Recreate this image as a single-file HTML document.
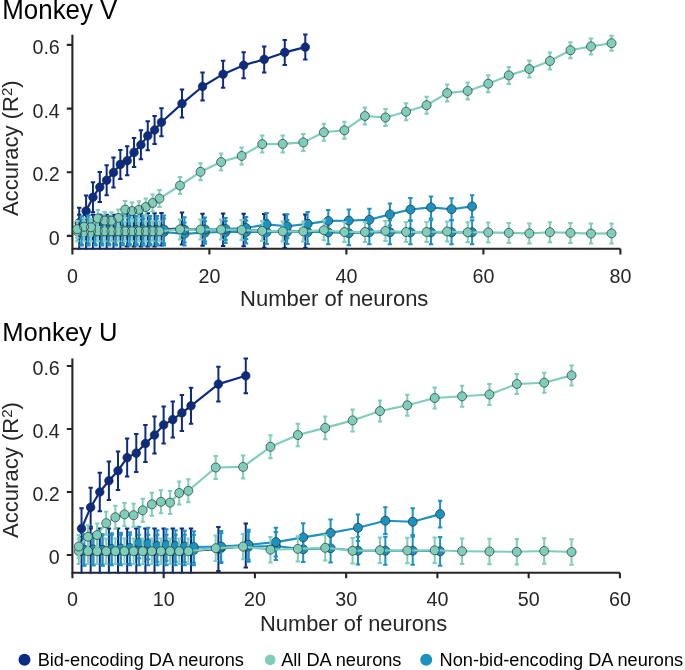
<!DOCTYPE html>
<html><head><meta charset="utf-8"><title>Decoding accuracy vs number of neurons</title>
<style>
html,body{margin:0;padding:0;background:#fff;}
body{width:685px;height:670px;overflow:hidden;font-family:"Liberation Sans",sans-serif;}
svg{display:block;will-change:transform;}
text{font-family:"Liberation Sans",sans-serif;}
.tk{font-size:19.7px;fill:#262626;}
.al{font-size:22.0px;fill:#262626;}
.yl{font-size:22.05px;}
.tt{font-size:25.9px;fill:#000;}
.lg{font-size:18.2px;fill:#000;}
</style></head><body>
<svg width="685" height="670" viewBox="0 0 685 670">
<rect width="685" height="670" fill="#fff"/>
<path d="M72.4 34.8V248.8H620.4" stroke="#262626" stroke-width="2.1" fill="none" stroke-linejoin="miter"/>
<path d="M72.40 248.8v5.6M209.40 248.8v5.6M346.40 248.8v5.6M483.40 248.8v5.6M620.40 248.8v5.6M72.4 235.90h-5.6M72.4 172.24h-5.6M72.4 108.58h-5.6M72.4 44.92h-5.6" stroke="#262626" stroke-width="2.1" fill="none"/>
<text transform="translate(72.40 282.50) scale(1 1.04)" text-anchor="middle" class="tk">0</text>
<text transform="translate(209.40 282.50) scale(1 1.04)" text-anchor="middle" class="tk">20</text>
<text transform="translate(346.40 282.50) scale(1 1.04)" text-anchor="middle" class="tk">40</text>
<text transform="translate(483.40 282.50) scale(1 1.04)" text-anchor="middle" class="tk">60</text>
<text transform="translate(620.40 282.50) scale(1 1.04)" text-anchor="middle" class="tk">80</text>
<text transform="translate(59.80 245.10) scale(1 1.04)" text-anchor="end" class="tk">0</text>
<text transform="translate(59.80 181.44) scale(1 1.04)" text-anchor="end" class="tk">0.2</text>
<text transform="translate(59.80 117.78) scale(1 1.04)" text-anchor="end" class="tk">0.4</text>
<text transform="translate(59.80 54.12) scale(1 1.04)" text-anchor="end" class="tk">0.6</text>
<clipPath id="c1"><rect x="72.4" y="24.799999999999997" width="620" height="224.8"/></clipPath>
<g clip-path="url(#c1)">
<path d="M79.25 214.80V249.20M77.05 214.80h4.4M77.05 249.20h4.4M86.10 214.80V249.20M83.90 214.80h4.4M83.90 249.20h4.4M92.95 214.80V249.20M90.75 214.80h4.4M90.75 249.20h4.4M99.80 214.80V249.20M97.60 214.80h4.4M97.60 249.20h4.4M106.65 214.80V249.20M104.45 214.80h4.4M104.45 249.20h4.4M113.50 214.80V249.20M111.30 214.80h4.4M111.30 249.20h4.4M120.35 214.80V249.20M118.15 214.80h4.4M118.15 249.20h4.4M127.20 213.20V246.40M125.00 213.20h4.4M125.00 246.40h4.4M134.05 213.20V246.40M131.85 213.20h4.4M131.85 246.40h4.4M140.90 213.20V246.40M138.70 213.20h4.4M138.70 246.40h4.4M147.75 213.20V246.40M145.55 213.20h4.4M145.55 246.40h4.4M154.60 213.20V246.40M152.40 213.20h4.4M152.40 246.40h4.4M161.45 212.90V245.50M159.25 212.90h4.4M159.25 245.50h4.4M182.00 212.60V244.60M179.80 212.60h4.4M179.80 244.60h4.4M202.55 213.70V245.70M200.35 213.70h4.4M200.35 245.70h4.4M223.10 213.60V246.00M220.90 213.60h4.4M220.90 246.00h4.4M243.65 213.80V246.20M241.45 213.80h4.4M241.45 246.20h4.4M264.20 214.10V247.70M262.00 214.10h4.4M262.00 247.70h4.4M284.75 214.50V248.10M282.55 214.50h4.4M282.55 248.10h4.4M305.30 214.50V248.10M303.10 214.50h4.4M303.10 248.10h4.4" stroke="#0c2c84" stroke-width="2.0" fill="none"/>
<polyline points="79.25,232.00 86.10,232.00 92.95,232.00 99.80,232.00 106.65,232.00 113.50,232.00 120.35,232.00 127.20,229.80 134.05,229.80 140.90,229.80 147.75,229.80 154.60,229.80 161.45,229.20 182.00,228.60 202.55,229.70 223.10,229.80 243.65,230.00 264.20,230.90 284.75,231.30 305.30,231.30" stroke="#0c2c84" stroke-width="2.15" fill="none" stroke-linejoin="round"/>
<g fill="#0c2c84" stroke="none"><circle cx="79.25" cy="232.00" r="4.3"/><circle cx="86.10" cy="232.00" r="4.3"/><circle cx="92.95" cy="232.00" r="4.3"/><circle cx="99.80" cy="232.00" r="4.3"/><circle cx="106.65" cy="232.00" r="4.3"/><circle cx="113.50" cy="232.00" r="4.3"/><circle cx="120.35" cy="232.00" r="4.3"/><circle cx="127.20" cy="229.80" r="4.3"/><circle cx="134.05" cy="229.80" r="4.3"/><circle cx="140.90" cy="229.80" r="4.3"/><circle cx="147.75" cy="229.80" r="4.3"/><circle cx="154.60" cy="229.80" r="4.3"/><circle cx="161.45" cy="229.20" r="4.3"/><circle cx="182.00" cy="228.60" r="4.3"/><circle cx="202.55" cy="229.70" r="4.3"/><circle cx="223.10" cy="229.80" r="4.3"/><circle cx="243.65" cy="230.00" r="4.3"/><circle cx="264.20" cy="230.90" r="4.3"/><circle cx="284.75" cy="231.30" r="4.3"/><circle cx="305.30" cy="231.30" r="4.3"/></g>
<g fill="none" stroke="#1f2a28" stroke-width="0.65"><circle cx="79.25" cy="232.00" r="4.3"/><circle cx="86.10" cy="232.00" r="4.3"/><circle cx="92.95" cy="232.00" r="4.3"/><circle cx="99.80" cy="232.00" r="4.3"/><circle cx="106.65" cy="232.00" r="4.3"/><circle cx="113.50" cy="232.00" r="4.3"/><circle cx="120.35" cy="232.00" r="4.3"/><circle cx="127.20" cy="229.80" r="4.3"/><circle cx="134.05" cy="229.80" r="4.3"/><circle cx="140.90" cy="229.80" r="4.3"/><circle cx="147.75" cy="229.80" r="4.3"/><circle cx="154.60" cy="229.80" r="4.3"/><circle cx="161.45" cy="229.20" r="4.3"/><circle cx="182.00" cy="228.60" r="4.3"/><circle cx="202.55" cy="229.70" r="4.3"/><circle cx="223.10" cy="229.80" r="4.3"/><circle cx="243.65" cy="230.00" r="4.3"/><circle cx="264.20" cy="230.90" r="4.3"/><circle cx="284.75" cy="231.30" r="4.3"/><circle cx="305.30" cy="231.30" r="4.3"/></g>
<path d="M79.25 207.70V237.70M77.05 207.70h4.4M77.05 237.70h4.4M86.10 195.50V226.50M83.90 195.50h4.4M83.90 226.50h4.4M92.95 182.20V212.20M90.75 182.20h4.4M90.75 212.20h4.4M99.80 172.10V202.10M97.60 172.10h4.4M97.60 202.10h4.4M106.65 165.30V195.30M104.45 165.30h4.4M104.45 195.30h4.4M113.50 157.50V187.50M111.30 157.50h4.4M111.30 187.50h4.4M120.35 149.90V178.90M118.15 149.90h4.4M118.15 178.90h4.4M127.20 146.20V175.20M125.00 146.20h4.4M125.00 175.20h4.4M134.05 137.90V166.90M131.85 137.90h4.4M131.85 166.90h4.4M140.90 130.30V159.30M138.70 130.30h4.4M138.70 159.30h4.4M147.75 121.30V150.30M145.55 121.30h4.4M145.55 150.30h4.4M154.60 116.00V144.00M152.40 116.00h4.4M152.40 144.00h4.4M161.45 108.20V136.20M159.25 108.20h4.4M159.25 136.20h4.4M182.00 89.60V117.60M179.80 89.60h4.4M179.80 117.60h4.4M202.55 72.50V100.50M200.35 72.50h4.4M200.35 100.50h4.4M223.10 60.70V87.70M220.90 60.70h4.4M220.90 87.70h4.4M243.65 52.20V78.20M241.45 52.20h4.4M241.45 78.20h4.4M264.20 46.40V72.40M262.00 46.40h4.4M262.00 72.40h4.4M284.75 39.90V64.90M282.55 39.90h4.4M282.55 64.90h4.4M305.30 34.60V59.60M303.10 34.60h4.4M303.10 59.60h4.4" stroke="#0c2c84" stroke-width="2.0" fill="none"/>
<polyline points="79.25,222.70 86.10,211.00 92.95,197.20 99.80,187.10 106.65,180.30 113.50,172.50 120.35,164.40 127.20,160.70 134.05,152.40 140.90,144.80 147.75,135.80 154.60,130.00 161.45,122.20 182.00,103.60 202.55,86.50 223.10,74.20 243.65,65.20 264.20,59.40 284.75,52.40 305.30,47.10" stroke="#0c2c84" stroke-width="2.15" fill="none" stroke-linejoin="round"/>
<g fill="#0c2c84" stroke="none"><circle cx="79.25" cy="222.70" r="4.3"/><circle cx="86.10" cy="211.00" r="4.3"/><circle cx="92.95" cy="197.20" r="4.3"/><circle cx="99.80" cy="187.10" r="4.3"/><circle cx="106.65" cy="180.30" r="4.3"/><circle cx="113.50" cy="172.50" r="4.3"/><circle cx="120.35" cy="164.40" r="4.3"/><circle cx="127.20" cy="160.70" r="4.3"/><circle cx="134.05" cy="152.40" r="4.3"/><circle cx="140.90" cy="144.80" r="4.3"/><circle cx="147.75" cy="135.80" r="4.3"/><circle cx="154.60" cy="130.00" r="4.3"/><circle cx="161.45" cy="122.20" r="4.3"/><circle cx="182.00" cy="103.60" r="4.3"/><circle cx="202.55" cy="86.50" r="4.3"/><circle cx="223.10" cy="74.20" r="4.3"/><circle cx="243.65" cy="65.20" r="4.3"/><circle cx="264.20" cy="59.40" r="4.3"/><circle cx="284.75" cy="52.40" r="4.3"/><circle cx="305.30" cy="47.10" r="4.3"/></g>
<g fill="none" stroke="#1f2a28" stroke-width="0.65"><circle cx="79.25" cy="222.70" r="4.3"/><circle cx="86.10" cy="211.00" r="4.3"/><circle cx="92.95" cy="197.20" r="4.3"/><circle cx="99.80" cy="187.10" r="4.3"/><circle cx="106.65" cy="180.30" r="4.3"/><circle cx="113.50" cy="172.50" r="4.3"/><circle cx="120.35" cy="164.40" r="4.3"/><circle cx="127.20" cy="160.70" r="4.3"/><circle cx="134.05" cy="152.40" r="4.3"/><circle cx="140.90" cy="144.80" r="4.3"/><circle cx="147.75" cy="135.80" r="4.3"/><circle cx="154.60" cy="130.00" r="4.3"/><circle cx="161.45" cy="122.20" r="4.3"/><circle cx="182.00" cy="103.60" r="4.3"/><circle cx="202.55" cy="86.50" r="4.3"/><circle cx="223.10" cy="74.20" r="4.3"/><circle cx="243.65" cy="65.20" r="4.3"/><circle cx="264.20" cy="59.40" r="4.3"/><circle cx="284.75" cy="52.40" r="4.3"/><circle cx="305.30" cy="47.10" r="4.3"/></g>
<path d="M81.65 218.50V245.50M79.45 218.50h4.4M79.45 245.50h4.4M88.50 218.50V245.50M86.30 218.50h4.4M86.30 245.50h4.4M95.35 218.50V245.50M93.15 218.50h4.4M93.15 245.50h4.4M102.20 218.50V245.50M100.00 218.50h4.4M100.00 245.50h4.4M109.05 218.50V245.50M106.85 218.50h4.4M106.85 245.50h4.4M115.90 218.50V245.50M113.70 218.50h4.4M113.70 245.50h4.4M122.75 218.50V245.50M120.55 218.50h4.4M120.55 245.50h4.4M129.60 218.50V245.50M127.40 218.50h4.4M127.40 245.50h4.4M136.45 218.50V245.50M134.25 218.50h4.4M134.25 245.50h4.4M143.30 218.50V245.50M141.10 218.50h4.4M141.10 245.50h4.4M150.15 218.50V245.50M147.95 218.50h4.4M147.95 245.50h4.4M157.00 218.50V245.50M154.80 218.50h4.4M154.80 245.50h4.4M163.85 218.50V245.50M161.65 218.50h4.4M161.65 245.50h4.4M184.40 222.40V245.40M182.20 222.40h4.4M182.20 245.40h4.4M204.95 221.20V243.80M202.75 221.20h4.4M202.75 243.80h4.4M225.50 221.00V243.00M223.30 221.00h4.4M223.30 243.00h4.4M246.05 220.50V243.50M243.85 220.50h4.4M243.85 243.50h4.4M266.60 220.00V244.00M264.40 220.00h4.4M264.40 244.00h4.4M287.15 220.00V244.00M284.95 220.00h4.4M284.95 244.00h4.4M307.70 220.00V244.00M305.50 220.00h4.4M305.50 244.00h4.4M328.25 220.30V244.30M326.05 220.30h4.4M326.05 244.30h4.4M348.80 221.20V245.20M346.60 221.20h4.4M346.60 245.20h4.4M369.35 220.30V244.30M367.15 220.30h4.4M367.15 244.30h4.4M389.90 220.30V244.30M387.70 220.30h4.4M387.70 244.30h4.4M410.45 220.30V244.30M408.25 220.30h4.4M408.25 244.30h4.4M431.00 220.30V244.30M428.80 220.30h4.4M428.80 244.30h4.4M451.55 220.30V244.30M449.35 220.30h4.4M449.35 244.30h4.4M472.10 220.30V244.30M469.90 220.30h4.4M469.90 244.30h4.4" stroke="#1d91c0" stroke-width="2.0" fill="none"/>
<polyline points="81.65,232.00 88.50,232.00 95.35,232.00 102.20,232.00 109.05,232.00 115.90,232.00 122.75,232.00 129.60,232.00 136.45,232.00 143.30,232.00 150.15,232.00 157.00,232.00 163.85,232.00 184.40,233.90 204.95,232.50 225.50,232.00 246.05,232.00 266.60,232.00 287.15,232.00 307.70,232.00 328.25,232.30 348.80,233.20 369.35,232.30 389.90,232.30 410.45,232.30 431.00,232.30 451.55,232.30 472.10,232.30" stroke="#1d91c0" stroke-width="2.15" fill="none" stroke-linejoin="round"/>
<g fill="#1d91c0" stroke="none"><circle cx="81.65" cy="232.00" r="4.5"/><circle cx="88.50" cy="232.00" r="4.5"/><circle cx="95.35" cy="232.00" r="4.5"/><circle cx="102.20" cy="232.00" r="4.5"/><circle cx="109.05" cy="232.00" r="4.5"/><circle cx="115.90" cy="232.00" r="4.5"/><circle cx="122.75" cy="232.00" r="4.5"/><circle cx="129.60" cy="232.00" r="4.5"/><circle cx="136.45" cy="232.00" r="4.5"/><circle cx="143.30" cy="232.00" r="4.5"/><circle cx="150.15" cy="232.00" r="4.5"/><circle cx="157.00" cy="232.00" r="4.5"/><circle cx="163.85" cy="232.00" r="4.5"/><circle cx="184.40" cy="233.90" r="4.5"/><circle cx="204.95" cy="232.50" r="4.5"/><circle cx="225.50" cy="232.00" r="4.5"/><circle cx="246.05" cy="232.00" r="4.5"/><circle cx="266.60" cy="232.00" r="4.5"/><circle cx="287.15" cy="232.00" r="4.5"/><circle cx="307.70" cy="232.00" r="4.5"/><circle cx="328.25" cy="232.30" r="4.5"/><circle cx="348.80" cy="233.20" r="4.5"/><circle cx="369.35" cy="232.30" r="4.5"/><circle cx="389.90" cy="232.30" r="4.5"/><circle cx="410.45" cy="232.30" r="4.5"/><circle cx="431.00" cy="232.30" r="4.5"/><circle cx="451.55" cy="232.30" r="4.5"/><circle cx="472.10" cy="232.30" r="4.5"/></g>
<g fill="none" stroke="#1f2a28" stroke-width="0.65"><circle cx="81.65" cy="232.00" r="4.5"/><circle cx="88.50" cy="232.00" r="4.5"/><circle cx="95.35" cy="232.00" r="4.5"/><circle cx="102.20" cy="232.00" r="4.5"/><circle cx="109.05" cy="232.00" r="4.5"/><circle cx="115.90" cy="232.00" r="4.5"/><circle cx="122.75" cy="232.00" r="4.5"/><circle cx="129.60" cy="232.00" r="4.5"/><circle cx="136.45" cy="232.00" r="4.5"/><circle cx="143.30" cy="232.00" r="4.5"/><circle cx="150.15" cy="232.00" r="4.5"/><circle cx="157.00" cy="232.00" r="4.5"/><circle cx="163.85" cy="232.00" r="4.5"/><circle cx="184.40" cy="233.90" r="4.5"/><circle cx="204.95" cy="232.50" r="4.5"/><circle cx="225.50" cy="232.00" r="4.5"/><circle cx="246.05" cy="232.00" r="4.5"/><circle cx="266.60" cy="232.00" r="4.5"/><circle cx="287.15" cy="232.00" r="4.5"/><circle cx="307.70" cy="232.00" r="4.5"/><circle cx="328.25" cy="232.30" r="4.5"/><circle cx="348.80" cy="233.20" r="4.5"/><circle cx="369.35" cy="232.30" r="4.5"/><circle cx="389.90" cy="232.30" r="4.5"/><circle cx="410.45" cy="232.30" r="4.5"/><circle cx="431.00" cy="232.30" r="4.5"/><circle cx="451.55" cy="232.30" r="4.5"/><circle cx="472.10" cy="232.30" r="4.5"/></g>
<path d="M81.65 216.50V244.50M79.45 216.50h4.4M79.45 244.50h4.4M88.50 215.50V243.50M86.30 215.50h4.4M86.30 243.50h4.4M95.35 216.50V244.50M93.15 216.50h4.4M93.15 244.50h4.4M102.20 215.50V243.50M100.00 215.50h4.4M100.00 243.50h4.4M109.05 216.00V244.00M106.85 216.00h4.4M106.85 244.00h4.4M115.90 216.50V244.50M113.70 216.50h4.4M113.70 244.50h4.4M122.75 215.50V243.50M120.55 215.50h4.4M120.55 243.50h4.4M129.60 216.00V244.00M127.40 216.00h4.4M127.40 244.00h4.4M136.45 216.00V244.00M134.25 216.00h4.4M134.25 244.00h4.4M143.30 215.50V243.50M141.10 215.50h4.4M141.10 243.50h4.4M150.15 216.00V244.00M147.95 216.00h4.4M147.95 244.00h4.4M157.00 216.00V244.00M154.80 216.00h4.4M154.80 244.00h4.4M163.85 215.50V243.50M161.65 215.50h4.4M161.65 243.50h4.4M184.40 217.20V242.40M182.20 217.20h4.4M182.20 242.40h4.4M204.95 217.50V241.50M202.75 217.50h4.4M202.75 241.50h4.4M225.50 218.00V240.00M223.30 218.00h4.4M223.30 240.00h4.4M246.05 217.00V239.00M243.85 217.00h4.4M243.85 239.00h4.4M266.60 212.90V235.90M264.40 212.90h4.4M264.40 235.90h4.4M287.15 214.20V238.20M284.95 214.20h4.4M284.95 238.20h4.4M307.70 211.90V235.90M305.50 211.90h4.4M305.50 235.90h4.4M328.25 209.90V231.90M326.05 209.90h4.4M326.05 231.90h4.4M348.80 209.60V231.60M346.60 209.60h4.4M346.60 231.60h4.4M369.35 208.80V230.80M367.15 208.80h4.4M367.15 230.80h4.4M389.90 203.40V225.40M387.70 203.40h4.4M387.70 225.40h4.4M410.45 198.10V220.90M408.25 198.10h4.4M408.25 220.90h4.4M431.00 196.40V218.40M428.80 196.40h4.4M428.80 218.40h4.4M451.55 198.20V220.20M449.35 198.20h4.4M449.35 220.20h4.4M472.10 195.20V217.60M469.90 195.20h4.4M469.90 217.60h4.4" stroke="#1d91c0" stroke-width="2.0" fill="none"/>
<polyline points="81.65,230.50 88.50,229.50 95.35,230.50 102.20,229.50 109.05,230.00 115.90,230.50 122.75,229.50 129.60,230.00 136.45,230.00 143.30,229.50 150.15,230.00 157.00,230.00 163.85,229.50 184.40,229.80 204.95,229.50 225.50,229.00 246.05,228.00 266.60,224.40 287.15,226.20 307.70,223.90 328.25,220.90 348.80,220.60 369.35,219.80 389.90,214.40 410.45,209.50 431.00,207.40 451.55,209.20 472.10,206.40" stroke="#1d91c0" stroke-width="2.15" fill="none" stroke-linejoin="round"/>
<g fill="#1d91c0" stroke="none"><circle cx="81.65" cy="230.50" r="4.5"/><circle cx="88.50" cy="229.50" r="4.5"/><circle cx="95.35" cy="230.50" r="4.5"/><circle cx="102.20" cy="229.50" r="4.5"/><circle cx="109.05" cy="230.00" r="4.5"/><circle cx="115.90" cy="230.50" r="4.5"/><circle cx="122.75" cy="229.50" r="4.5"/><circle cx="129.60" cy="230.00" r="4.5"/><circle cx="136.45" cy="230.00" r="4.5"/><circle cx="143.30" cy="229.50" r="4.5"/><circle cx="150.15" cy="230.00" r="4.5"/><circle cx="157.00" cy="230.00" r="4.5"/><circle cx="163.85" cy="229.50" r="4.5"/><circle cx="184.40" cy="229.80" r="4.5"/><circle cx="204.95" cy="229.50" r="4.5"/><circle cx="225.50" cy="229.00" r="4.5"/><circle cx="246.05" cy="228.00" r="4.5"/><circle cx="266.60" cy="224.40" r="4.5"/><circle cx="287.15" cy="226.20" r="4.5"/><circle cx="307.70" cy="223.90" r="4.5"/><circle cx="328.25" cy="220.90" r="4.5"/><circle cx="348.80" cy="220.60" r="4.5"/><circle cx="369.35" cy="219.80" r="4.5"/><circle cx="389.90" cy="214.40" r="4.5"/><circle cx="410.45" cy="209.50" r="4.5"/><circle cx="431.00" cy="207.40" r="4.5"/><circle cx="451.55" cy="209.20" r="4.5"/><circle cx="472.10" cy="206.40" r="4.5"/></g>
<g fill="none" stroke="#1f2a28" stroke-width="0.65"><circle cx="81.65" cy="230.50" r="4.5"/><circle cx="88.50" cy="229.50" r="4.5"/><circle cx="95.35" cy="230.50" r="4.5"/><circle cx="102.20" cy="229.50" r="4.5"/><circle cx="109.05" cy="230.00" r="4.5"/><circle cx="115.90" cy="230.50" r="4.5"/><circle cx="122.75" cy="229.50" r="4.5"/><circle cx="129.60" cy="230.00" r="4.5"/><circle cx="136.45" cy="230.00" r="4.5"/><circle cx="143.30" cy="229.50" r="4.5"/><circle cx="150.15" cy="230.00" r="4.5"/><circle cx="157.00" cy="230.00" r="4.5"/><circle cx="163.85" cy="229.50" r="4.5"/><circle cx="184.40" cy="229.80" r="4.5"/><circle cx="204.95" cy="229.50" r="4.5"/><circle cx="225.50" cy="229.00" r="4.5"/><circle cx="246.05" cy="228.00" r="4.5"/><circle cx="266.60" cy="224.40" r="4.5"/><circle cx="287.15" cy="226.20" r="4.5"/><circle cx="307.70" cy="223.90" r="4.5"/><circle cx="328.25" cy="220.90" r="4.5"/><circle cx="348.80" cy="220.60" r="4.5"/><circle cx="369.35" cy="219.80" r="4.5"/><circle cx="389.90" cy="214.40" r="4.5"/><circle cx="410.45" cy="209.50" r="4.5"/><circle cx="431.00" cy="207.40" r="4.5"/><circle cx="451.55" cy="209.20" r="4.5"/><circle cx="472.10" cy="206.40" r="4.5"/></g>
<path d="M77.25 221.20V241.20M75.05 221.20h4.4M75.05 241.20h4.4M84.10 221.20V241.20M81.90 221.20h4.4M81.90 241.20h4.4M90.95 221.20V241.20M88.75 221.20h4.4M88.75 241.20h4.4M97.80 221.20V241.20M95.60 221.20h4.4M95.60 241.20h4.4M104.65 221.20V241.20M102.45 221.20h4.4M102.45 241.20h4.4M111.50 221.20V241.20M109.30 221.20h4.4M109.30 241.20h4.4M118.35 221.20V241.20M116.15 221.20h4.4M116.15 241.20h4.4M125.20 221.20V241.20M123.00 221.20h4.4M123.00 241.20h4.4M132.05 221.20V241.20M129.85 221.20h4.4M129.85 241.20h4.4M138.90 221.20V241.20M136.70 221.20h4.4M136.70 241.20h4.4M145.75 221.20V241.20M143.55 221.20h4.4M143.55 241.20h4.4M152.60 221.20V241.20M150.40 221.20h4.4M150.40 241.20h4.4M159.45 221.20V241.20M157.25 221.20h4.4M157.25 241.20h4.4M180.00 219.40V239.40M177.80 219.40h4.4M177.80 239.40h4.4M200.55 219.60V239.60M198.35 219.60h4.4M198.35 239.60h4.4M221.10 219.60V239.60M218.90 219.60h4.4M218.90 239.60h4.4M241.65 220.00V240.00M239.45 220.00h4.4M239.45 240.00h4.4M262.20 220.90V240.90M260.00 220.90h4.4M260.00 240.90h4.4M282.75 221.40V241.40M280.55 221.40h4.4M280.55 241.40h4.4M303.30 221.40V241.40M301.10 221.40h4.4M301.10 241.40h4.4M323.85 220.20V240.20M321.65 220.20h4.4M321.65 240.20h4.4M344.40 222.00V242.00M342.20 222.00h4.4M342.20 242.00h4.4M364.95 222.00V242.00M362.75 222.00h4.4M362.75 242.00h4.4M385.50 220.90V240.90M383.30 220.90h4.4M383.30 240.90h4.4M406.05 222.00V242.00M403.85 222.00h4.4M403.85 242.00h4.4M426.60 222.00V242.00M424.40 222.00h4.4M424.40 242.00h4.4M447.15 221.50V241.50M444.95 221.50h4.4M444.95 241.50h4.4M467.70 222.30V242.30M465.50 222.30h4.4M465.50 242.30h4.4M488.25 222.40V242.40M486.05 222.40h4.4M486.05 242.40h4.4M508.80 222.90V242.90M506.60 222.90h4.4M506.60 242.90h4.4M529.35 223.40V243.40M527.15 223.40h4.4M527.15 243.40h4.4M549.90 222.20V242.20M547.70 222.20h4.4M547.70 242.20h4.4M570.45 222.90V242.90M568.25 222.90h4.4M568.25 242.90h4.4M591.00 223.60V243.60M588.80 223.60h4.4M588.80 243.60h4.4M611.55 223.40V243.40M609.35 223.40h4.4M609.35 243.40h4.4" stroke="#7fcdbb" stroke-width="2.0" fill="none"/>
<polyline points="77.25,231.20 84.10,231.20 90.95,231.20 97.80,231.20 104.65,231.20 111.50,231.20 118.35,231.20 125.20,231.20 132.05,231.20 138.90,231.20 145.75,231.20 152.60,231.20 159.45,231.20 180.00,229.40 200.55,229.60 221.10,229.60 241.65,230.00 262.20,230.90 282.75,231.40 303.30,231.40 323.85,230.20 344.40,232.00 364.95,232.00 385.50,230.90 406.05,232.00 426.60,232.00 447.15,231.50 467.70,232.30 488.25,232.40 508.80,232.90 529.35,233.40 549.90,232.20 570.45,232.90 591.00,233.60 611.55,233.40" stroke="#7fcdbb" stroke-width="2.15" fill="none" stroke-linejoin="round"/>
<g fill="#7fcdbb" stroke="none"><circle cx="77.25" cy="231.20" r="4.5"/><circle cx="84.10" cy="231.20" r="4.5"/><circle cx="90.95" cy="231.20" r="4.5"/><circle cx="97.80" cy="231.20" r="4.5"/><circle cx="104.65" cy="231.20" r="4.5"/><circle cx="111.50" cy="231.20" r="4.5"/><circle cx="118.35" cy="231.20" r="4.5"/><circle cx="125.20" cy="231.20" r="4.5"/><circle cx="132.05" cy="231.20" r="4.5"/><circle cx="138.90" cy="231.20" r="4.5"/><circle cx="145.75" cy="231.20" r="4.5"/><circle cx="152.60" cy="231.20" r="4.5"/><circle cx="159.45" cy="231.20" r="4.5"/><circle cx="180.00" cy="229.40" r="4.5"/><circle cx="200.55" cy="229.60" r="4.5"/><circle cx="221.10" cy="229.60" r="4.5"/><circle cx="241.65" cy="230.00" r="4.5"/><circle cx="262.20" cy="230.90" r="4.5"/><circle cx="282.75" cy="231.40" r="4.5"/><circle cx="303.30" cy="231.40" r="4.5"/><circle cx="323.85" cy="230.20" r="4.5"/><circle cx="344.40" cy="232.00" r="4.5"/><circle cx="364.95" cy="232.00" r="4.5"/><circle cx="385.50" cy="230.90" r="4.5"/><circle cx="406.05" cy="232.00" r="4.5"/><circle cx="426.60" cy="232.00" r="4.5"/><circle cx="447.15" cy="231.50" r="4.5"/><circle cx="467.70" cy="232.30" r="4.5"/><circle cx="488.25" cy="232.40" r="4.5"/><circle cx="508.80" cy="232.90" r="4.5"/><circle cx="529.35" cy="233.40" r="4.5"/><circle cx="549.90" cy="232.20" r="4.5"/><circle cx="570.45" cy="232.90" r="4.5"/><circle cx="591.00" cy="233.60" r="4.5"/><circle cx="611.55" cy="233.40" r="4.5"/></g>
<g fill="none" stroke="#1f2a28" stroke-width="0.65"><circle cx="77.25" cy="231.20" r="4.5"/><circle cx="84.10" cy="231.20" r="4.5"/><circle cx="90.95" cy="231.20" r="4.5"/><circle cx="97.80" cy="231.20" r="4.5"/><circle cx="104.65" cy="231.20" r="4.5"/><circle cx="111.50" cy="231.20" r="4.5"/><circle cx="118.35" cy="231.20" r="4.5"/><circle cx="125.20" cy="231.20" r="4.5"/><circle cx="132.05" cy="231.20" r="4.5"/><circle cx="138.90" cy="231.20" r="4.5"/><circle cx="145.75" cy="231.20" r="4.5"/><circle cx="152.60" cy="231.20" r="4.5"/><circle cx="159.45" cy="231.20" r="4.5"/><circle cx="180.00" cy="229.40" r="4.5"/><circle cx="200.55" cy="229.60" r="4.5"/><circle cx="221.10" cy="229.60" r="4.5"/><circle cx="241.65" cy="230.00" r="4.5"/><circle cx="262.20" cy="230.90" r="4.5"/><circle cx="282.75" cy="231.40" r="4.5"/><circle cx="303.30" cy="231.40" r="4.5"/><circle cx="323.85" cy="230.20" r="4.5"/><circle cx="344.40" cy="232.00" r="4.5"/><circle cx="364.95" cy="232.00" r="4.5"/><circle cx="385.50" cy="230.90" r="4.5"/><circle cx="406.05" cy="232.00" r="4.5"/><circle cx="426.60" cy="232.00" r="4.5"/><circle cx="447.15" cy="231.50" r="4.5"/><circle cx="467.70" cy="232.30" r="4.5"/><circle cx="488.25" cy="232.40" r="4.5"/><circle cx="508.80" cy="232.90" r="4.5"/><circle cx="529.35" cy="233.40" r="4.5"/><circle cx="549.90" cy="232.20" r="4.5"/><circle cx="570.45" cy="232.90" r="4.5"/><circle cx="591.00" cy="233.60" r="4.5"/><circle cx="611.55" cy="233.40" r="4.5"/></g>
<path d="M77.25 220.70V237.70M75.05 220.70h4.4M75.05 237.70h4.4M84.10 218.30V235.30M81.90 218.30h4.4M81.90 235.30h4.4M90.95 218.80V235.80M88.75 218.80h4.4M88.75 235.80h4.4M97.80 209.90V226.90M95.60 209.90h4.4M95.60 226.90h4.4M104.65 212.10V229.10M102.45 212.10h4.4M102.45 229.10h4.4M111.50 212.30V229.30M109.30 212.30h4.4M109.30 229.30h4.4M118.35 209.40V226.40M116.15 209.40h4.4M116.15 226.40h4.4M125.20 201.10V218.10M123.00 201.10h4.4M123.00 218.10h4.4M132.05 202.50V219.50M129.85 202.50h4.4M129.85 219.50h4.4M138.90 201.30V218.30M136.70 201.30h4.4M136.70 218.30h4.4M145.75 198.50V215.50M143.55 198.50h4.4M143.55 215.50h4.4M152.60 194.50V211.50M150.40 194.50h4.4M150.40 211.50h4.4M159.45 190.10V207.10M157.25 190.10h4.4M157.25 207.10h4.4M180.00 177.00V194.00M177.80 177.00h4.4M177.80 194.00h4.4M200.55 163.30V180.30M198.35 163.30h4.4M198.35 180.30h4.4M221.10 153.50V170.50M218.90 153.50h4.4M218.90 170.50h4.4M241.65 147.40V164.40M239.45 147.40h4.4M239.45 164.40h4.4M262.20 135.60V152.60M260.00 135.60h4.4M260.00 152.60h4.4M282.75 135.40V152.40M280.55 135.40h4.4M280.55 152.40h4.4M303.30 133.90V150.90M301.10 133.90h4.4M301.10 150.90h4.4M323.85 123.80V140.80M321.65 123.80h4.4M321.65 140.80h4.4M344.40 121.80V138.80M342.20 121.80h4.4M342.20 138.80h4.4M364.95 107.50V124.50M362.75 107.50h4.4M362.75 124.50h4.4M385.50 109.00V126.00M383.30 109.00h4.4M383.30 126.00h4.4M406.05 103.20V120.20M403.85 103.20h4.4M403.85 120.20h4.4M426.60 96.70V113.70M424.40 96.70h4.4M424.40 113.70h4.4M447.15 84.60V101.60M444.95 84.60h4.4M444.95 101.60h4.4M467.70 82.40V99.40M465.50 82.40h4.4M465.50 99.40h4.4M488.25 75.20V92.20M486.05 75.20h4.4M486.05 92.20h4.4M508.80 66.90V83.90M506.60 66.90h4.4M506.60 83.90h4.4M529.35 60.50V77.50M527.15 60.50h4.4M527.15 77.50h4.4M549.90 52.50V69.50M547.70 52.50h4.4M547.70 69.50h4.4M570.45 42.20V58.20M568.25 42.20h4.4M568.25 58.20h4.4M591.00 38.40V54.40M588.80 38.40h4.4M588.80 54.40h4.4M611.55 35.70V50.70M609.35 35.70h4.4M609.35 50.70h4.4" stroke="#7fcdbb" stroke-width="2.0" fill="none"/>
<polyline points="77.25,229.20 84.10,226.80 90.95,227.30 97.80,218.40 104.65,220.60 111.50,220.80 118.35,217.90 125.20,209.60 132.05,211.00 138.90,209.80 145.75,207.00 152.60,203.00 159.45,198.60 180.00,185.50 200.55,171.80 221.10,162.00 241.65,155.90 262.20,144.10 282.75,143.90 303.30,142.40 323.85,132.30 344.40,130.30 364.95,116.00 385.50,117.50 406.05,111.70 426.60,105.20 447.15,93.10 467.70,90.90 488.25,83.70 508.80,75.40 529.35,69.00 549.90,61.00 570.45,50.20 591.00,46.40 611.55,43.20" stroke="#7fcdbb" stroke-width="2.15" fill="none" stroke-linejoin="round"/>
<g fill="#7fcdbb" stroke="none"><circle cx="77.25" cy="229.20" r="4.5"/><circle cx="84.10" cy="226.80" r="4.5"/><circle cx="90.95" cy="227.30" r="4.5"/><circle cx="97.80" cy="218.40" r="4.5"/><circle cx="104.65" cy="220.60" r="4.5"/><circle cx="111.50" cy="220.80" r="4.5"/><circle cx="118.35" cy="217.90" r="4.5"/><circle cx="125.20" cy="209.60" r="4.5"/><circle cx="132.05" cy="211.00" r="4.5"/><circle cx="138.90" cy="209.80" r="4.5"/><circle cx="145.75" cy="207.00" r="4.5"/><circle cx="152.60" cy="203.00" r="4.5"/><circle cx="159.45" cy="198.60" r="4.5"/><circle cx="180.00" cy="185.50" r="4.5"/><circle cx="200.55" cy="171.80" r="4.5"/><circle cx="221.10" cy="162.00" r="4.5"/><circle cx="241.65" cy="155.90" r="4.5"/><circle cx="262.20" cy="144.10" r="4.5"/><circle cx="282.75" cy="143.90" r="4.5"/><circle cx="303.30" cy="142.40" r="4.5"/><circle cx="323.85" cy="132.30" r="4.5"/><circle cx="344.40" cy="130.30" r="4.5"/><circle cx="364.95" cy="116.00" r="4.5"/><circle cx="385.50" cy="117.50" r="4.5"/><circle cx="406.05" cy="111.70" r="4.5"/><circle cx="426.60" cy="105.20" r="4.5"/><circle cx="447.15" cy="93.10" r="4.5"/><circle cx="467.70" cy="90.90" r="4.5"/><circle cx="488.25" cy="83.70" r="4.5"/><circle cx="508.80" cy="75.40" r="4.5"/><circle cx="529.35" cy="69.00" r="4.5"/><circle cx="549.90" cy="61.00" r="4.5"/><circle cx="570.45" cy="50.20" r="4.5"/><circle cx="591.00" cy="46.40" r="4.5"/><circle cx="611.55" cy="43.20" r="4.5"/></g>
<g fill="none" stroke="#1f2a28" stroke-width="0.65"><circle cx="77.25" cy="229.20" r="4.5"/><circle cx="84.10" cy="226.80" r="4.5"/><circle cx="90.95" cy="227.30" r="4.5"/><circle cx="97.80" cy="218.40" r="4.5"/><circle cx="104.65" cy="220.60" r="4.5"/><circle cx="111.50" cy="220.80" r="4.5"/><circle cx="118.35" cy="217.90" r="4.5"/><circle cx="125.20" cy="209.60" r="4.5"/><circle cx="132.05" cy="211.00" r="4.5"/><circle cx="138.90" cy="209.80" r="4.5"/><circle cx="145.75" cy="207.00" r="4.5"/><circle cx="152.60" cy="203.00" r="4.5"/><circle cx="159.45" cy="198.60" r="4.5"/><circle cx="180.00" cy="185.50" r="4.5"/><circle cx="200.55" cy="171.80" r="4.5"/><circle cx="221.10" cy="162.00" r="4.5"/><circle cx="241.65" cy="155.90" r="4.5"/><circle cx="262.20" cy="144.10" r="4.5"/><circle cx="282.75" cy="143.90" r="4.5"/><circle cx="303.30" cy="142.40" r="4.5"/><circle cx="323.85" cy="132.30" r="4.5"/><circle cx="344.40" cy="130.30" r="4.5"/><circle cx="364.95" cy="116.00" r="4.5"/><circle cx="385.50" cy="117.50" r="4.5"/><circle cx="406.05" cy="111.70" r="4.5"/><circle cx="426.60" cy="105.20" r="4.5"/><circle cx="447.15" cy="93.10" r="4.5"/><circle cx="467.70" cy="90.90" r="4.5"/><circle cx="488.25" cy="83.70" r="4.5"/><circle cx="508.80" cy="75.40" r="4.5"/><circle cx="529.35" cy="69.00" r="4.5"/><circle cx="549.90" cy="61.00" r="4.5"/><circle cx="570.45" cy="50.20" r="4.5"/><circle cx="591.00" cy="46.40" r="4.5"/><circle cx="611.55" cy="43.20" r="4.5"/></g>
</g>
<path d="M72.4 358.6V572.7H619.9" stroke="#262626" stroke-width="2.1" fill="none" stroke-linejoin="miter"/>
<path d="M72.40 572.7v5.6M163.65 572.7v5.6M254.90 572.7v5.6M346.15 572.7v5.6M437.40 572.7v5.6M528.65 572.7v5.6M619.90 572.7v5.6M72.4 555.00h-5.6M72.4 492.00h-5.6M72.4 429.00h-5.6M72.4 366.00h-5.6" stroke="#262626" stroke-width="2.1" fill="none"/>
<text transform="translate(72.40 606.40) scale(1 1.04)" text-anchor="middle" class="tk">0</text>
<text transform="translate(163.65 606.40) scale(1 1.04)" text-anchor="middle" class="tk">10</text>
<text transform="translate(254.90 606.40) scale(1 1.04)" text-anchor="middle" class="tk">20</text>
<text transform="translate(346.15 606.40) scale(1 1.04)" text-anchor="middle" class="tk">30</text>
<text transform="translate(437.40 606.40) scale(1 1.04)" text-anchor="middle" class="tk">40</text>
<text transform="translate(528.65 606.40) scale(1 1.04)" text-anchor="middle" class="tk">50</text>
<text transform="translate(619.90 606.40) scale(1 1.04)" text-anchor="middle" class="tk">60</text>
<text transform="translate(59.80 564.20) scale(1 1.04)" text-anchor="end" class="tk">0</text>
<text transform="translate(59.80 501.20) scale(1 1.04)" text-anchor="end" class="tk">0.2</text>
<text transform="translate(59.80 438.20) scale(1 1.04)" text-anchor="end" class="tk">0.4</text>
<text transform="translate(59.80 375.20) scale(1 1.04)" text-anchor="end" class="tk">0.6</text>
<clipPath id="c2"><rect x="72.4" y="348.6" width="620" height="224.90000000000003"/></clipPath>
<g clip-path="url(#c2)">
<path d="M81.53 528.50V573.50M79.33 528.50h4.4M79.33 573.50h4.4M90.65 528.50V573.50M88.45 528.50h4.4M88.45 573.50h4.4M99.78 528.50V573.50M97.58 528.50h4.4M97.58 573.50h4.4M108.90 528.50V573.50M106.70 528.50h4.4M106.70 573.50h4.4M118.03 528.50V573.50M115.83 528.50h4.4M115.83 573.50h4.4M127.15 528.50V573.50M124.95 528.50h4.4M124.95 573.50h4.4M136.28 528.50V573.50M134.08 528.50h4.4M134.08 573.50h4.4M145.40 528.50V573.50M143.20 528.50h4.4M143.20 573.50h4.4M154.53 528.50V573.50M152.33 528.50h4.4M152.33 573.50h4.4M163.65 528.50V573.50M161.45 528.50h4.4M161.45 573.50h4.4M172.78 528.50V573.50M170.58 528.50h4.4M170.58 573.50h4.4M181.90 528.50V573.50M179.70 528.50h4.4M179.70 573.50h4.4M191.03 528.50V573.50M188.83 528.50h4.4M188.83 573.50h4.4M218.40 527.00V571.00M216.20 527.00h4.4M216.20 571.00h4.4M245.78 523.60V567.60M243.58 523.60h4.4M243.58 567.60h4.4" stroke="#0c2c84" stroke-width="2.0" fill="none"/>
<polyline points="81.53,551.00 90.65,551.00 99.78,551.00 108.90,551.00 118.03,551.00 127.15,551.00 136.28,551.00 145.40,551.00 154.53,551.00 163.65,551.00 172.78,551.00 181.90,551.00 191.03,551.00 218.40,549.00 245.78,545.60" stroke="#0c2c84" stroke-width="2.15" fill="none" stroke-linejoin="round"/>
<g fill="#0c2c84" stroke="none"><circle cx="81.53" cy="551.00" r="4.3"/><circle cx="90.65" cy="551.00" r="4.3"/><circle cx="99.78" cy="551.00" r="4.3"/><circle cx="108.90" cy="551.00" r="4.3"/><circle cx="118.03" cy="551.00" r="4.3"/><circle cx="127.15" cy="551.00" r="4.3"/><circle cx="136.28" cy="551.00" r="4.3"/><circle cx="145.40" cy="551.00" r="4.3"/><circle cx="154.53" cy="551.00" r="4.3"/><circle cx="163.65" cy="551.00" r="4.3"/><circle cx="172.78" cy="551.00" r="4.3"/><circle cx="181.90" cy="551.00" r="4.3"/><circle cx="191.03" cy="551.00" r="4.3"/><circle cx="218.40" cy="549.00" r="4.3"/><circle cx="245.78" cy="545.60" r="4.3"/></g>
<g fill="none" stroke="#1f2a28" stroke-width="0.65"><circle cx="81.53" cy="551.00" r="4.3"/><circle cx="90.65" cy="551.00" r="4.3"/><circle cx="99.78" cy="551.00" r="4.3"/><circle cx="108.90" cy="551.00" r="4.3"/><circle cx="118.03" cy="551.00" r="4.3"/><circle cx="127.15" cy="551.00" r="4.3"/><circle cx="136.28" cy="551.00" r="4.3"/><circle cx="145.40" cy="551.00" r="4.3"/><circle cx="154.53" cy="551.00" r="4.3"/><circle cx="163.65" cy="551.00" r="4.3"/><circle cx="172.78" cy="551.00" r="4.3"/><circle cx="181.90" cy="551.00" r="4.3"/><circle cx="191.03" cy="551.00" r="4.3"/><circle cx="218.40" cy="549.00" r="4.3"/><circle cx="245.78" cy="545.60" r="4.3"/></g>
<path d="M81.53 508.30V548.90M79.33 508.30h4.4M79.33 548.90h4.4M90.65 487.80V526.80M88.45 487.80h4.4M88.45 526.80h4.4M99.78 472.70V511.30M97.58 472.70h4.4M97.58 511.30h4.4M108.90 461.40V500.00M106.70 461.40h4.4M106.70 500.00h4.4M118.03 451.40V490.00M115.83 451.40h4.4M115.83 490.00h4.4M127.15 438.60V476.60M124.95 438.60h4.4M124.95 476.60h4.4M136.28 434.10V472.10M134.08 434.10h4.4M134.08 472.10h4.4M145.40 425.00V462.00M143.20 425.00h4.4M143.20 462.00h4.4M154.53 416.50V453.50M152.33 416.50h4.4M152.33 453.50h4.4M163.65 406.40V443.40M161.45 406.40h4.4M161.45 443.40h4.4M172.78 401.60V437.60M170.58 401.60h4.4M170.58 437.60h4.4M181.90 394.90V430.90M179.70 394.90h4.4M179.70 430.90h4.4M191.03 387.80V423.80M188.83 387.80h4.4M188.83 423.80h4.4M218.40 366.80V401.40M216.20 366.80h4.4M216.20 401.40h4.4M245.78 358.45V393.15M243.58 358.45h4.4M243.58 393.15h4.4" stroke="#0c2c84" stroke-width="2.0" fill="none"/>
<polyline points="81.53,528.60 90.65,507.30 99.78,492.00 108.90,480.70 118.03,470.70 127.15,457.60 136.28,453.10 145.40,443.50 154.53,435.00 163.65,424.90 172.78,419.60 181.90,412.90 191.03,405.80 218.40,384.10 245.78,375.80" stroke="#0c2c84" stroke-width="2.15" fill="none" stroke-linejoin="round"/>
<g fill="#0c2c84" stroke="none"><circle cx="81.53" cy="528.60" r="4.3"/><circle cx="90.65" cy="507.30" r="4.3"/><circle cx="99.78" cy="492.00" r="4.3"/><circle cx="108.90" cy="480.70" r="4.3"/><circle cx="118.03" cy="470.70" r="4.3"/><circle cx="127.15" cy="457.60" r="4.3"/><circle cx="136.28" cy="453.10" r="4.3"/><circle cx="145.40" cy="443.50" r="4.3"/><circle cx="154.53" cy="435.00" r="4.3"/><circle cx="163.65" cy="424.90" r="4.3"/><circle cx="172.78" cy="419.60" r="4.3"/><circle cx="181.90" cy="412.90" r="4.3"/><circle cx="191.03" cy="405.80" r="4.3"/><circle cx="218.40" cy="384.10" r="4.3"/><circle cx="245.78" cy="375.80" r="4.3"/></g>
<g fill="none" stroke="#1f2a28" stroke-width="0.65"><circle cx="81.53" cy="528.60" r="4.3"/><circle cx="90.65" cy="507.30" r="4.3"/><circle cx="99.78" cy="492.00" r="4.3"/><circle cx="108.90" cy="480.70" r="4.3"/><circle cx="118.03" cy="470.70" r="4.3"/><circle cx="127.15" cy="457.60" r="4.3"/><circle cx="136.28" cy="453.10" r="4.3"/><circle cx="145.40" cy="443.50" r="4.3"/><circle cx="154.53" cy="435.00" r="4.3"/><circle cx="163.65" cy="424.90" r="4.3"/><circle cx="172.78" cy="419.60" r="4.3"/><circle cx="181.90" cy="412.90" r="4.3"/><circle cx="191.03" cy="405.80" r="4.3"/><circle cx="218.40" cy="384.10" r="4.3"/><circle cx="245.78" cy="375.80" r="4.3"/></g>
<path d="M84.23 534.80V565.20M82.03 534.80h4.4M82.03 565.20h4.4M93.35 534.80V565.20M91.15 534.80h4.4M91.15 565.20h4.4M102.48 534.80V565.20M100.28 534.80h4.4M100.28 565.20h4.4M111.60 534.80V565.20M109.40 534.80h4.4M109.40 565.20h4.4M120.73 534.80V565.20M118.53 534.80h4.4M118.53 565.20h4.4M129.85 534.80V565.20M127.65 534.80h4.4M127.65 565.20h4.4M138.97 534.80V565.20M136.78 534.80h4.4M136.78 565.20h4.4M148.10 534.80V565.20M145.90 534.80h4.4M145.90 565.20h4.4M157.22 534.80V565.20M155.03 534.80h4.4M155.03 565.20h4.4M166.35 534.80V565.20M164.15 534.80h4.4M164.15 565.20h4.4M175.47 534.80V565.20M173.28 534.80h4.4M173.28 565.20h4.4M184.60 534.80V565.20M182.40 534.80h4.4M182.40 565.20h4.4M193.72 534.80V565.20M191.53 534.80h4.4M191.53 565.20h4.4M221.10 533.00V563.00M218.90 533.00h4.4M218.90 563.00h4.4M248.47 531.80V561.80M246.28 531.80h4.4M246.28 561.80h4.4M275.85 532.00V560.00M273.65 532.00h4.4M273.65 560.00h4.4M303.22 536.70V561.90M301.02 536.70h4.4M301.02 561.90h4.4M330.60 533.80V562.60M328.40 533.80h4.4M328.40 562.60h4.4M357.97 536.80V564.60M355.77 536.80h4.4M355.77 564.60h4.4M385.35 536.70V564.70M383.15 536.70h4.4M383.15 564.70h4.4M412.72 536.70V564.70M410.52 536.70h4.4M410.52 564.70h4.4M440.10 536.90V565.70M437.90 536.90h4.4M437.90 565.70h4.4" stroke="#1d91c0" stroke-width="2.0" fill="none"/>
<polyline points="84.23,550.00 93.35,550.00 102.48,550.00 111.60,550.00 120.73,550.00 129.85,550.00 138.97,550.00 148.10,550.00 157.22,550.00 166.35,550.00 175.47,550.00 184.60,550.00 193.72,550.00 221.10,548.00 248.47,546.80 275.85,546.00 303.22,549.30 330.60,548.20 357.97,550.70 385.35,550.70 412.72,550.70 440.10,551.30" stroke="#1d91c0" stroke-width="2.15" fill="none" stroke-linejoin="round"/>
<g fill="#1d91c0" stroke="none"><circle cx="84.23" cy="550.00" r="4.5"/><circle cx="93.35" cy="550.00" r="4.5"/><circle cx="102.48" cy="550.00" r="4.5"/><circle cx="111.60" cy="550.00" r="4.5"/><circle cx="120.73" cy="550.00" r="4.5"/><circle cx="129.85" cy="550.00" r="4.5"/><circle cx="138.97" cy="550.00" r="4.5"/><circle cx="148.10" cy="550.00" r="4.5"/><circle cx="157.22" cy="550.00" r="4.5"/><circle cx="166.35" cy="550.00" r="4.5"/><circle cx="175.47" cy="550.00" r="4.5"/><circle cx="184.60" cy="550.00" r="4.5"/><circle cx="193.72" cy="550.00" r="4.5"/><circle cx="221.10" cy="548.00" r="4.5"/><circle cx="248.47" cy="546.80" r="4.5"/><circle cx="275.85" cy="546.00" r="4.5"/><circle cx="303.22" cy="549.30" r="4.5"/><circle cx="330.60" cy="548.20" r="4.5"/><circle cx="357.97" cy="550.70" r="4.5"/><circle cx="385.35" cy="550.70" r="4.5"/><circle cx="412.72" cy="550.70" r="4.5"/><circle cx="440.10" cy="551.30" r="4.5"/></g>
<g fill="none" stroke="#1f2a28" stroke-width="0.65"><circle cx="84.23" cy="550.00" r="4.5"/><circle cx="93.35" cy="550.00" r="4.5"/><circle cx="102.48" cy="550.00" r="4.5"/><circle cx="111.60" cy="550.00" r="4.5"/><circle cx="120.73" cy="550.00" r="4.5"/><circle cx="129.85" cy="550.00" r="4.5"/><circle cx="138.97" cy="550.00" r="4.5"/><circle cx="148.10" cy="550.00" r="4.5"/><circle cx="157.22" cy="550.00" r="4.5"/><circle cx="166.35" cy="550.00" r="4.5"/><circle cx="175.47" cy="550.00" r="4.5"/><circle cx="184.60" cy="550.00" r="4.5"/><circle cx="193.72" cy="550.00" r="4.5"/><circle cx="221.10" cy="548.00" r="4.5"/><circle cx="248.47" cy="546.80" r="4.5"/><circle cx="275.85" cy="546.00" r="4.5"/><circle cx="303.22" cy="549.30" r="4.5"/><circle cx="330.60" cy="548.20" r="4.5"/><circle cx="357.97" cy="550.70" r="4.5"/><circle cx="385.35" cy="550.70" r="4.5"/><circle cx="412.72" cy="550.70" r="4.5"/><circle cx="440.10" cy="551.30" r="4.5"/></g>
<path d="M84.23 534.20V565.80M82.03 534.20h4.4M82.03 565.80h4.4M93.35 533.70V565.30M91.15 533.70h4.4M91.15 565.30h4.4M102.48 534.20V565.80M100.28 534.20h4.4M100.28 565.80h4.4M111.60 533.20V564.80M109.40 533.20h4.4M109.40 564.80h4.4M120.73 532.70V564.30M118.53 532.70h4.4M118.53 564.30h4.4M129.85 532.20V563.80M127.65 532.20h4.4M127.65 563.80h4.4M138.97 526.70V558.30M136.78 526.70h4.4M136.78 558.30h4.4M148.10 527.70V559.30M145.90 527.70h4.4M145.90 559.30h4.4M157.22 530.20V561.80M155.03 530.20h4.4M155.03 561.80h4.4M166.35 529.20V560.80M164.15 529.20h4.4M164.15 560.80h4.4M175.47 530.20V561.80M173.28 530.20h4.4M173.28 561.80h4.4M184.60 530.70V562.30M182.40 530.70h4.4M182.40 562.30h4.4M193.72 531.20V562.80M191.53 531.20h4.4M191.53 562.80h4.4M221.10 531.00V562.00M218.90 531.00h4.4M218.90 562.00h4.4M248.47 529.80V559.80M246.28 529.80h4.4M246.28 559.80h4.4M275.85 527.80V556.40M273.65 527.80h4.4M273.65 556.40h4.4M303.22 523.30V551.50M301.02 523.30h4.4M301.02 551.50h4.4M330.60 519.60V546.20M328.40 519.60h4.4M328.40 546.20h4.4M357.97 514.50V541.10M355.77 514.50h4.4M355.77 541.10h4.4M385.35 507.30V534.10M383.15 507.30h4.4M383.15 534.10h4.4M412.72 508.30V535.10M410.52 508.30h4.4M410.52 535.10h4.4M440.10 500.70V527.50M437.90 500.70h4.4M437.90 527.50h4.4" stroke="#1d91c0" stroke-width="2.0" fill="none"/>
<polyline points="84.23,550.00 93.35,549.50 102.48,550.00 111.60,549.00 120.73,548.50 129.85,548.00 138.97,542.50 148.10,543.50 157.22,546.00 166.35,545.00 175.47,546.00 184.60,546.50 193.72,547.00 221.10,546.50 248.47,544.80 275.85,542.10 303.22,537.40 330.60,532.90 357.97,527.80 385.35,520.70 412.72,521.70 440.10,514.10" stroke="#1d91c0" stroke-width="2.15" fill="none" stroke-linejoin="round"/>
<g fill="#1d91c0" stroke="none"><circle cx="84.23" cy="550.00" r="4.5"/><circle cx="93.35" cy="549.50" r="4.5"/><circle cx="102.48" cy="550.00" r="4.5"/><circle cx="111.60" cy="549.00" r="4.5"/><circle cx="120.73" cy="548.50" r="4.5"/><circle cx="129.85" cy="548.00" r="4.5"/><circle cx="138.97" cy="542.50" r="4.5"/><circle cx="148.10" cy="543.50" r="4.5"/><circle cx="157.22" cy="546.00" r="4.5"/><circle cx="166.35" cy="545.00" r="4.5"/><circle cx="175.47" cy="546.00" r="4.5"/><circle cx="184.60" cy="546.50" r="4.5"/><circle cx="193.72" cy="547.00" r="4.5"/><circle cx="221.10" cy="546.50" r="4.5"/><circle cx="248.47" cy="544.80" r="4.5"/><circle cx="275.85" cy="542.10" r="4.5"/><circle cx="303.22" cy="537.40" r="4.5"/><circle cx="330.60" cy="532.90" r="4.5"/><circle cx="357.97" cy="527.80" r="4.5"/><circle cx="385.35" cy="520.70" r="4.5"/><circle cx="412.72" cy="521.70" r="4.5"/><circle cx="440.10" cy="514.10" r="4.5"/></g>
<g fill="none" stroke="#1f2a28" stroke-width="0.65"><circle cx="84.23" cy="550.00" r="4.5"/><circle cx="93.35" cy="549.50" r="4.5"/><circle cx="102.48" cy="550.00" r="4.5"/><circle cx="111.60" cy="549.00" r="4.5"/><circle cx="120.73" cy="548.50" r="4.5"/><circle cx="129.85" cy="548.00" r="4.5"/><circle cx="138.97" cy="542.50" r="4.5"/><circle cx="148.10" cy="543.50" r="4.5"/><circle cx="157.22" cy="546.00" r="4.5"/><circle cx="166.35" cy="545.00" r="4.5"/><circle cx="175.47" cy="546.00" r="4.5"/><circle cx="184.60" cy="546.50" r="4.5"/><circle cx="193.72" cy="547.00" r="4.5"/><circle cx="221.10" cy="546.50" r="4.5"/><circle cx="248.47" cy="544.80" r="4.5"/><circle cx="275.85" cy="542.10" r="4.5"/><circle cx="303.22" cy="537.40" r="4.5"/><circle cx="330.60" cy="532.90" r="4.5"/><circle cx="357.97" cy="527.80" r="4.5"/><circle cx="385.35" cy="520.70" r="4.5"/><circle cx="412.72" cy="521.70" r="4.5"/><circle cx="440.10" cy="514.10" r="4.5"/></g>
<path d="M78.83 538.50V563.90M76.62 538.50h4.4M76.62 563.90h4.4M87.95 538.50V563.90M85.75 538.50h4.4M85.75 563.90h4.4M97.08 538.50V563.90M94.88 538.50h4.4M94.88 563.90h4.4M106.20 538.50V563.90M104.00 538.50h4.4M104.00 563.90h4.4M115.33 538.50V563.90M113.12 538.50h4.4M113.12 563.90h4.4M124.45 538.50V563.90M122.25 538.50h4.4M122.25 563.90h4.4M133.58 538.50V563.90M131.38 538.50h4.4M131.38 563.90h4.4M142.70 538.50V563.90M140.50 538.50h4.4M140.50 563.90h4.4M151.83 538.50V563.90M149.63 538.50h4.4M149.63 563.90h4.4M160.95 538.50V563.90M158.75 538.50h4.4M158.75 563.90h4.4M170.08 538.50V563.90M167.88 538.50h4.4M167.88 563.90h4.4M179.20 538.50V563.90M177.00 538.50h4.4M177.00 563.90h4.4M188.33 538.50V563.90M186.13 538.50h4.4M186.13 563.90h4.4M215.70 535.50V560.90M213.50 535.50h4.4M213.50 560.90h4.4M243.08 533.90V559.30M240.88 533.90h4.4M240.88 559.30h4.4M270.45 537.00V562.40M268.25 537.00h4.4M268.25 562.40h4.4M297.82 536.20V561.60M295.62 536.20h4.4M295.62 561.60h4.4M325.20 535.10V560.50M323.00 535.10h4.4M323.00 560.50h4.4M352.57 538.10V563.50M350.38 538.10h4.4M350.38 563.50h4.4M379.95 537.60V563.00M377.75 537.60h4.4M377.75 563.00h4.4M407.32 537.80V563.20M405.12 537.80h4.4M405.12 563.20h4.4M434.70 537.60V563.00M432.50 537.60h4.4M432.50 563.00h4.4M462.07 538.50V563.90M459.88 538.50h4.4M459.88 563.90h4.4M489.45 538.80V564.20M487.25 538.80h4.4M487.25 564.20h4.4M516.82 539.10V564.50M514.62 539.10h4.4M514.62 564.50h4.4M544.20 538.30V563.70M542.00 538.30h4.4M542.00 563.70h4.4M571.57 539.30V564.70M569.37 539.30h4.4M569.37 564.70h4.4" stroke="#7fcdbb" stroke-width="2.0" fill="none"/>
<polyline points="78.83,551.20 87.95,551.20 97.08,551.20 106.20,551.20 115.33,551.20 124.45,551.20 133.58,551.20 142.70,551.20 151.83,551.20 160.95,551.20 170.08,551.20 179.20,551.20 188.33,551.20 215.70,548.20 243.08,546.60 270.45,549.70 297.82,548.90 325.20,547.80 352.57,550.80 379.95,550.30 407.32,550.50 434.70,550.30 462.07,551.20 489.45,551.50 516.82,551.80 544.20,551.00 571.57,552.00" stroke="#7fcdbb" stroke-width="2.15" fill="none" stroke-linejoin="round"/>
<g fill="#7fcdbb" stroke="none"><circle cx="78.83" cy="551.20" r="4.5"/><circle cx="87.95" cy="551.20" r="4.5"/><circle cx="97.08" cy="551.20" r="4.5"/><circle cx="106.20" cy="551.20" r="4.5"/><circle cx="115.33" cy="551.20" r="4.5"/><circle cx="124.45" cy="551.20" r="4.5"/><circle cx="133.58" cy="551.20" r="4.5"/><circle cx="142.70" cy="551.20" r="4.5"/><circle cx="151.83" cy="551.20" r="4.5"/><circle cx="160.95" cy="551.20" r="4.5"/><circle cx="170.08" cy="551.20" r="4.5"/><circle cx="179.20" cy="551.20" r="4.5"/><circle cx="188.33" cy="551.20" r="4.5"/><circle cx="215.70" cy="548.20" r="4.5"/><circle cx="243.08" cy="546.60" r="4.5"/><circle cx="270.45" cy="549.70" r="4.5"/><circle cx="297.82" cy="548.90" r="4.5"/><circle cx="325.20" cy="547.80" r="4.5"/><circle cx="352.57" cy="550.80" r="4.5"/><circle cx="379.95" cy="550.30" r="4.5"/><circle cx="407.32" cy="550.50" r="4.5"/><circle cx="434.70" cy="550.30" r="4.5"/><circle cx="462.07" cy="551.20" r="4.5"/><circle cx="489.45" cy="551.50" r="4.5"/><circle cx="516.82" cy="551.80" r="4.5"/><circle cx="544.20" cy="551.00" r="4.5"/><circle cx="571.57" cy="552.00" r="4.5"/></g>
<g fill="none" stroke="#1f2a28" stroke-width="0.65"><circle cx="78.83" cy="551.20" r="4.5"/><circle cx="87.95" cy="551.20" r="4.5"/><circle cx="97.08" cy="551.20" r="4.5"/><circle cx="106.20" cy="551.20" r="4.5"/><circle cx="115.33" cy="551.20" r="4.5"/><circle cx="124.45" cy="551.20" r="4.5"/><circle cx="133.58" cy="551.20" r="4.5"/><circle cx="142.70" cy="551.20" r="4.5"/><circle cx="151.83" cy="551.20" r="4.5"/><circle cx="160.95" cy="551.20" r="4.5"/><circle cx="170.08" cy="551.20" r="4.5"/><circle cx="179.20" cy="551.20" r="4.5"/><circle cx="188.33" cy="551.20" r="4.5"/><circle cx="215.70" cy="548.20" r="4.5"/><circle cx="243.08" cy="546.60" r="4.5"/><circle cx="270.45" cy="549.70" r="4.5"/><circle cx="297.82" cy="548.90" r="4.5"/><circle cx="325.20" cy="547.80" r="4.5"/><circle cx="352.57" cy="550.80" r="4.5"/><circle cx="379.95" cy="550.30" r="4.5"/><circle cx="407.32" cy="550.50" r="4.5"/><circle cx="434.70" cy="550.30" r="4.5"/><circle cx="462.07" cy="551.20" r="4.5"/><circle cx="489.45" cy="551.50" r="4.5"/><circle cx="516.82" cy="551.80" r="4.5"/><circle cx="544.20" cy="551.00" r="4.5"/><circle cx="571.57" cy="552.00" r="4.5"/></g>
<path d="M78.83 535.00V558.00M76.62 535.00h4.4M76.62 558.00h4.4M87.95 525.30V548.30M85.75 525.30h4.4M85.75 548.30h4.4M97.08 523.50V546.50M94.88 523.50h4.4M94.88 546.50h4.4M106.20 511.70V534.70M104.00 511.70h4.4M104.00 534.70h4.4M115.33 505.80V528.80M113.12 505.80h4.4M113.12 528.80h4.4M124.45 502.90V525.90M122.25 502.90h4.4M122.25 525.90h4.4M133.58 503.70V526.70M131.38 503.70h4.4M131.38 526.70h4.4M142.70 498.80V521.80M140.50 498.80h4.4M140.50 521.80h4.4M151.83 492.80V515.80M149.63 492.80h4.4M149.63 515.80h4.4M160.95 490.30V513.30M158.75 490.30h4.4M158.75 513.30h4.4M170.08 491.10V514.10M167.88 491.10h4.4M167.88 514.10h4.4M179.20 481.50V504.50M177.00 481.50h4.4M177.00 504.50h4.4M188.33 479.30V502.30M186.13 479.30h4.4M186.13 502.30h4.4M215.70 456.00V479.00M213.50 456.00h4.4M213.50 479.00h4.4M243.08 455.40V478.40M240.88 455.40h4.4M240.88 478.40h4.4M270.45 435.30V458.30M268.25 435.30h4.4M268.25 458.30h4.4M297.82 423.70V446.30M295.62 423.70h4.4M295.62 446.30h4.4M325.20 416.60V439.20M323.00 416.60h4.4M323.00 439.20h4.4M352.57 409.40V431.40M350.38 409.40h4.4M350.38 431.40h4.4M379.95 400.60V421.60M377.75 400.60h4.4M377.75 421.60h4.4M407.32 394.80V415.80M405.12 394.80h4.4M405.12 415.80h4.4M434.70 387.50V408.50M432.50 387.50h4.4M432.50 408.50h4.4M462.07 385.80V406.80M459.88 385.80h4.4M459.88 406.80h4.4M489.45 384.00V405.00M487.25 384.00h4.4M487.25 405.00h4.4M516.82 374.00V394.00M514.62 374.00h4.4M514.62 394.00h4.4M544.20 372.70V392.70M542.00 372.70h4.4M542.00 392.70h4.4M571.57 365.40V385.40M569.37 365.40h4.4M569.37 385.40h4.4" stroke="#7fcdbb" stroke-width="2.0" fill="none"/>
<polyline points="78.83,546.50 87.95,536.80 97.08,535.00 106.20,523.20 115.33,517.30 124.45,514.40 133.58,515.20 142.70,510.30 151.83,504.30 160.95,501.80 170.08,502.60 179.20,493.00 188.33,490.80 215.70,467.50 243.08,466.90 270.45,446.80 297.82,435.00 325.20,427.90 352.57,420.40 379.95,411.10 407.32,405.30 434.70,398.00 462.07,396.30 489.45,394.50 516.82,384.00 544.20,382.70 571.57,375.40" stroke="#7fcdbb" stroke-width="2.15" fill="none" stroke-linejoin="round"/>
<g fill="#7fcdbb" stroke="none"><circle cx="78.83" cy="546.50" r="4.5"/><circle cx="87.95" cy="536.80" r="4.5"/><circle cx="97.08" cy="535.00" r="4.5"/><circle cx="106.20" cy="523.20" r="4.5"/><circle cx="115.33" cy="517.30" r="4.5"/><circle cx="124.45" cy="514.40" r="4.5"/><circle cx="133.58" cy="515.20" r="4.5"/><circle cx="142.70" cy="510.30" r="4.5"/><circle cx="151.83" cy="504.30" r="4.5"/><circle cx="160.95" cy="501.80" r="4.5"/><circle cx="170.08" cy="502.60" r="4.5"/><circle cx="179.20" cy="493.00" r="4.5"/><circle cx="188.33" cy="490.80" r="4.5"/><circle cx="215.70" cy="467.50" r="4.5"/><circle cx="243.08" cy="466.90" r="4.5"/><circle cx="270.45" cy="446.80" r="4.5"/><circle cx="297.82" cy="435.00" r="4.5"/><circle cx="325.20" cy="427.90" r="4.5"/><circle cx="352.57" cy="420.40" r="4.5"/><circle cx="379.95" cy="411.10" r="4.5"/><circle cx="407.32" cy="405.30" r="4.5"/><circle cx="434.70" cy="398.00" r="4.5"/><circle cx="462.07" cy="396.30" r="4.5"/><circle cx="489.45" cy="394.50" r="4.5"/><circle cx="516.82" cy="384.00" r="4.5"/><circle cx="544.20" cy="382.70" r="4.5"/><circle cx="571.57" cy="375.40" r="4.5"/></g>
<g fill="none" stroke="#1f2a28" stroke-width="0.65"><circle cx="78.83" cy="546.50" r="4.5"/><circle cx="87.95" cy="536.80" r="4.5"/><circle cx="97.08" cy="535.00" r="4.5"/><circle cx="106.20" cy="523.20" r="4.5"/><circle cx="115.33" cy="517.30" r="4.5"/><circle cx="124.45" cy="514.40" r="4.5"/><circle cx="133.58" cy="515.20" r="4.5"/><circle cx="142.70" cy="510.30" r="4.5"/><circle cx="151.83" cy="504.30" r="4.5"/><circle cx="160.95" cy="501.80" r="4.5"/><circle cx="170.08" cy="502.60" r="4.5"/><circle cx="179.20" cy="493.00" r="4.5"/><circle cx="188.33" cy="490.80" r="4.5"/><circle cx="215.70" cy="467.50" r="4.5"/><circle cx="243.08" cy="466.90" r="4.5"/><circle cx="270.45" cy="446.80" r="4.5"/><circle cx="297.82" cy="435.00" r="4.5"/><circle cx="325.20" cy="427.90" r="4.5"/><circle cx="352.57" cy="420.40" r="4.5"/><circle cx="379.95" cy="411.10" r="4.5"/><circle cx="407.32" cy="405.30" r="4.5"/><circle cx="434.70" cy="398.00" r="4.5"/><circle cx="462.07" cy="396.30" r="4.5"/><circle cx="489.45" cy="394.50" r="4.5"/><circle cx="516.82" cy="384.00" r="4.5"/><circle cx="544.20" cy="382.70" r="4.5"/><circle cx="571.57" cy="375.40" r="4.5"/></g>
</g>
<text transform="translate(2.3 18.8) scale(1 1.04)" class="tt">Monkey V</text>
<text transform="translate(2.3 340.8) scale(1 1.04)" class="tt" style="font-size:25.6px">Monkey U</text>
<text transform="translate(240.1 305.5) scale(1 1.04)" class="al">Number of neurons</text>
<text transform="translate(260.1 630.9) scale(1 1.04)" class="al" style="font-size:21.85px">Number of neurons</text>
<text transform="translate(17.7 216.1) rotate(-90) scale(1 1.02)" class="al yl">Accuracy (R<tspan dy="-6.0" font-size="15">2</tspan><tspan dy="6.0">)</tspan></text>
<text transform="translate(17.7 537.9) rotate(-90) scale(1 1.02)" class="al yl">Accuracy (R<tspan dy="-6.0" font-size="15">2</tspan><tspan dy="6.0">)</tspan></text>
<circle cx="24.5" cy="659.8" r="6" fill="#0c2c84"/>
<text transform="translate(37.7 665.7) scale(1 1.04)" class="lg">Bid-encoding DA neurons</text>
<circle cx="270.2" cy="659.8" r="5.35" fill="#7fcdbb"/>
<text transform="translate(281.2 665.7) scale(1 1.04)" class="lg">All DA neurons</text>
<circle cx="426.2" cy="659.8" r="6" fill="#1d91c0"/>
<text transform="translate(439.6 665.7) scale(1 1.04)" class="lg">Non-bid-encoding DA neurons</text>
</svg>
</body></html>
